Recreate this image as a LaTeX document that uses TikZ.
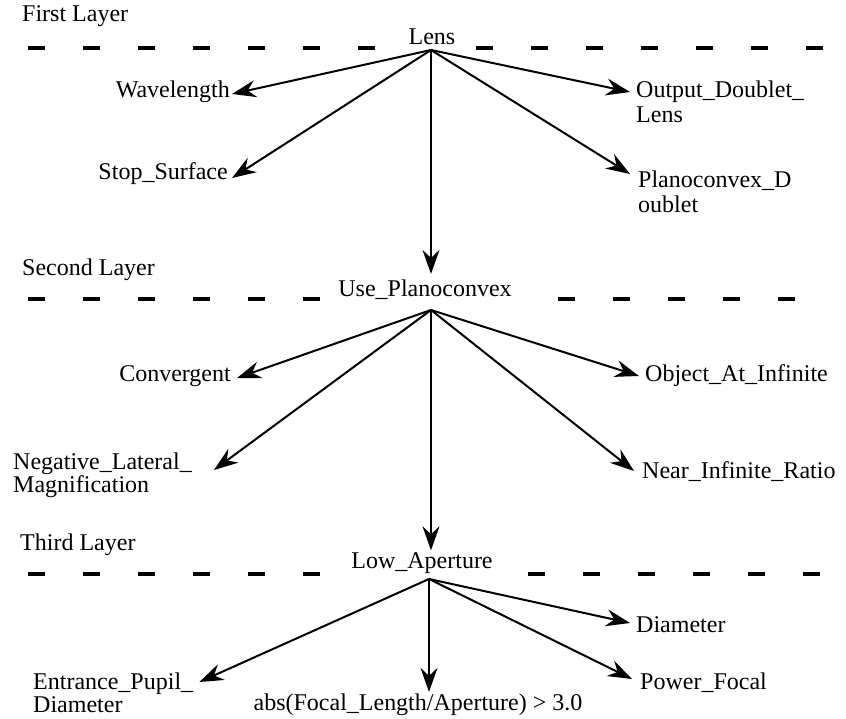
\documentclass[tikz,border=0pt]{standalone}
\usepackage{fontspec}
\setmainfont{Liberation Serif}
\usetikzlibrary{arrows.meta}
\begin{document}
\begin{tikzpicture}[x=1pt,y=-1pt,
  lbl/.style={font=\fontsize{24}{27}\selectfont, inner sep=2pt},
  arr/.style={line width=2pt, -{Stealth[length=24pt,width=17pt,inset=8pt]}},
  layerline/.style={dash pattern=on 17pt off 38pt, line width=4pt}]
\useasboundingbox (0,0) rectangle (846,719);
% layer lines
\draw[layerline] (28,48) -- (385,48);
\draw[layerline] (476,48) -- (835,48);
\draw[layerline] (28,299) -- (330,299);
\draw[layerline] (558,299) -- (805,299);
\draw[layerline] (28,574) -- (330,574);
\draw[layerline] (528,574) -- (830,574);
% layer labels
\node[lbl,anchor=west] (l1) at (20,16) {First Layer};
\node[lbl,anchor=west] (l2) at (20,270) {Second Layer};
\node[lbl,anchor=west] (l3) at (18,545) {Third Layer};
% layer 1
\node[lbl] (lens) at (432,37) {Lens};
\coordinate (h1) at (431,50);
\node[lbl,anchor=east] (wave) at (232,92) {Wavelength};
\node[lbl,anchor=east] (stop) at (230,174) {Stop\_Surface};
\node[lbl,anchor=west] (odl) at (634,92) {Output\_Doublet\_};
\node[lbl,anchor=west] (odl2) at (634,115) {Lens};
\node[lbl,anchor=west] (pcd) at (636,181) {Planoconvex\_D};
\node[lbl,anchor=west] (pcd2) at (636,204) {oublet};
% layer 2
\node[lbl] (upc) at (425,290) {Use\_Planoconvex};
\coordinate (h2) at (431,310);
\node[lbl,anchor=east] (conv) at (233,376) {Convergent};
\node[lbl,anchor=west] (obj) at (643,376) {Object\_At\_Infinite};
\node[lbl,anchor=west] (neg) at (11,464) {Negative\_Lateral\_};
\node[lbl,anchor=west] (neg2) at (11,487) {Magnification};
\node[lbl,anchor=west] (nir) at (640,472) {Near\_Infinite\_Ratio};
% layer 3
\node[lbl] (low) at (422,563) {Low\_Aperture};
\coordinate (h3) at (429,579);
\node[lbl,anchor=west] (diam) at (634,625) {Diameter};
\node[lbl,anchor=west] (ent) at (31,684) {Entrance\_Pupil\_};
\node[lbl,anchor=west] (ent2) at (31,705) {Diameter};
\node[lbl] (abs) at (418,705) {abs(Focal\_Length/Aperture) > 3.0};
\node[lbl,anchor=west] (pf) at (638,683) {Power\_Focal};
% arrows layer 1
\draw[arr] (h1) -- ([yshift=-2pt]wave.east);
\draw[arr] (h1) -- ([xshift=2pt,yshift=-4pt]stop.east);
\draw[arr] (h1) -- ([xshift=-4pt]odl.west);
\draw[arr] (h1) -- ([xshift=-6pt,yshift=7pt]pcd.west);
\draw[arr, shorten >=4pt] (h1) -- (h1 |- upc.north);
% arrows layer 2
\draw[arr] (h2) -- ([xshift=4pt,yshift=-2pt]conv.east);
\draw[arr] (h2) -- ([xshift=-4pt]obj.west);
\draw[arr] (h2) -- ([xshift=20pt,yshift=-6pt]neg.east);
\draw[arr] (h2) -- ([xshift=-6pt,yshift=1pt]nir.west);
\draw[arr] (h2) -- (h2 |- low.north);
% arrows layer 3
\draw[arr] (h3) -- ([xshift=-4pt,yshift=2pt]diam.west);
\draw[arr] (h3) -- ([xshift=4pt,yshift=2pt]ent.east);
\draw[arr] (h3) -- (h3 |- abs.north);
\draw[arr] (h3) -- ([xshift=-6pt,yshift=4pt]pf.west);
\end{tikzpicture}
\end{document}
